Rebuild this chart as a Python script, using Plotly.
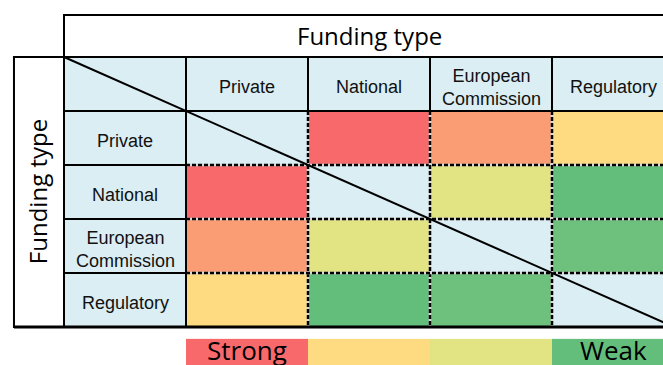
import plotly.graph_objects as go

# funding types, same order on both axes
types = ['Private', 'National', 'European<br>Commission', 'Regulatory']
# link strength between funding types, 6 = strongest, None = diagonal
strength = [[None, 6, 5, 4],
            [6, None, 3, 1],
            [5, 3, None, 2],
            [4, 1, 2, None]]
# colour for each strength level 1..6
level_colors = ['#63BE7B', '#6DC17C', '#E2E383', '#FEDA80', '#FA9D75', '#F8696B']
# legend strip
legend_levels = [6, 4, 3, 1]
legend_labels = ['Strong', '', '', 'Weak']

n = len(types)
scale = []
for i, c in enumerate(level_colors):
    scale.append([i / len(level_colors), c])
    scale.append([(i + 1) / len(level_colors), c])

edges = list(range(1, n + 2))

fig = go.Figure()
fig.add_trace(go.Heatmap(z=strength, x=edges, y=edges, colorscale=scale,
                         zmin=0.5, zmax=6.5, showscale=False, hoverinfo='skip'))
fig.add_trace(go.Heatmap(z=[legend_levels], x=edges, y=[n + 1.22, n + 2.22],
                         colorscale=scale, zmin=0.5, zmax=6.5, showscale=False,
                         hoverinfo='skip'))

shapes = []
# light blue table background
shapes.append(dict(type='rect', x0=0, x1=n + 1, y0=0, y1=n + 1, layer='below',
                   fillcolor='#DAEEF3', line=dict(width=0)))
# title boxes
shapes.append(dict(type='rect', x0=0, x1=n + 1.5, y0=-0.778, y1=0,
                   fillcolor='white', line=dict(color='black', width=2)))
shapes.append(dict(type='rect', x0=-0.41, x1=0, y0=0, y1=n + 1,
                   fillcolor='white', line=dict(color='black', width=2)))

# dashed lines inside the coloured area
for k in range(2, n + 1):
    for x0, x1, y0, y1 in [(1, n + 1, k, k), (k, k, 1, n + 1)]:
        shapes.append(dict(type='line', x0=x0, x1=x1, y0=y0, y1=y1,
                           line=dict(color='#d8d8d8', width=2.5)))
        shapes.append(dict(type='line', x0=x0, x1=x1, y0=y0, y1=y1,
                           line=dict(color='black', width=2.5, dash='4px,2px')))

# solid header lines
for k in range(1, n + 1):
    shapes.append(dict(type='line', x0=k, x1=k, y0=0, y1=1,
                       line=dict(color='black', width=2)))
    shapes.append(dict(type='line', x0=0, x1=1, y0=k, y1=k,
                       line=dict(color='black', width=2)))
shapes.append(dict(type='line', x0=0, x1=n + 1, y0=1, y1=1, line=dict(color='black', width=2)))
shapes.append(dict(type='line', x0=1, x1=1, y0=0, y1=n + 1, line=dict(color='black', width=2)))
shapes.append(dict(type='line', x0=-0.41, x1=n + 1, y0=n + 1, y1=n + 1,
                   line=dict(color='black', width=3)))
# diagonal
shapes.append(dict(type='line', x0=0, x1=n + 1, y0=0, y1=n + 1,
                   line=dict(color='black', width=2)))

ann = []
for i, t in enumerate(types):
    ann.append(dict(x=i + 1.5, y=0.56, text=t, showarrow=False,
                    font=dict(family='Liberation Sans', size=18, color='#111')))
    ann.append(dict(x=0.5, y=i + 1.56, text=t, showarrow=False,
                    font=dict(family='Liberation Sans', size=18, color='#111')))
ann.append(dict(x=(n + 1) / 2, y=-0.389, text='Funding type', showarrow=False,
                font=dict(family='Open Sans', size=24, color='black')))
ann.append(dict(x=-0.22, y=(n + 1) / 2, text='Funding type', showarrow=False, textangle=-90,
                font=dict(family='Open Sans', size=24, color='black')))
for i, lab in enumerate(legend_labels):
    if lab:
        ann.append(dict(x=i + 1.5, y=n + 1.42, text=lab, showarrow=False,
                        font=dict(family='Open Sans', size=26, color='black')))

fig.update_layout(width=663, height=365, margin=dict(l=0, r=0, t=0, b=0),
                  plot_bgcolor='white', paper_bgcolor='white',
                  shapes=shapes, annotations=ann, showlegend=False)
fig.update_xaxes(range=[-64 / 122, 599 / 122], visible=False, fixedrange=True)
fig.update_yaxes(range=[308 / 54, -57 / 54], visible=False, fixedrange=True)

fig.write_html('out.html', config={'displayModeBar': False},
               post_script="document.body.style.margin='0';")
